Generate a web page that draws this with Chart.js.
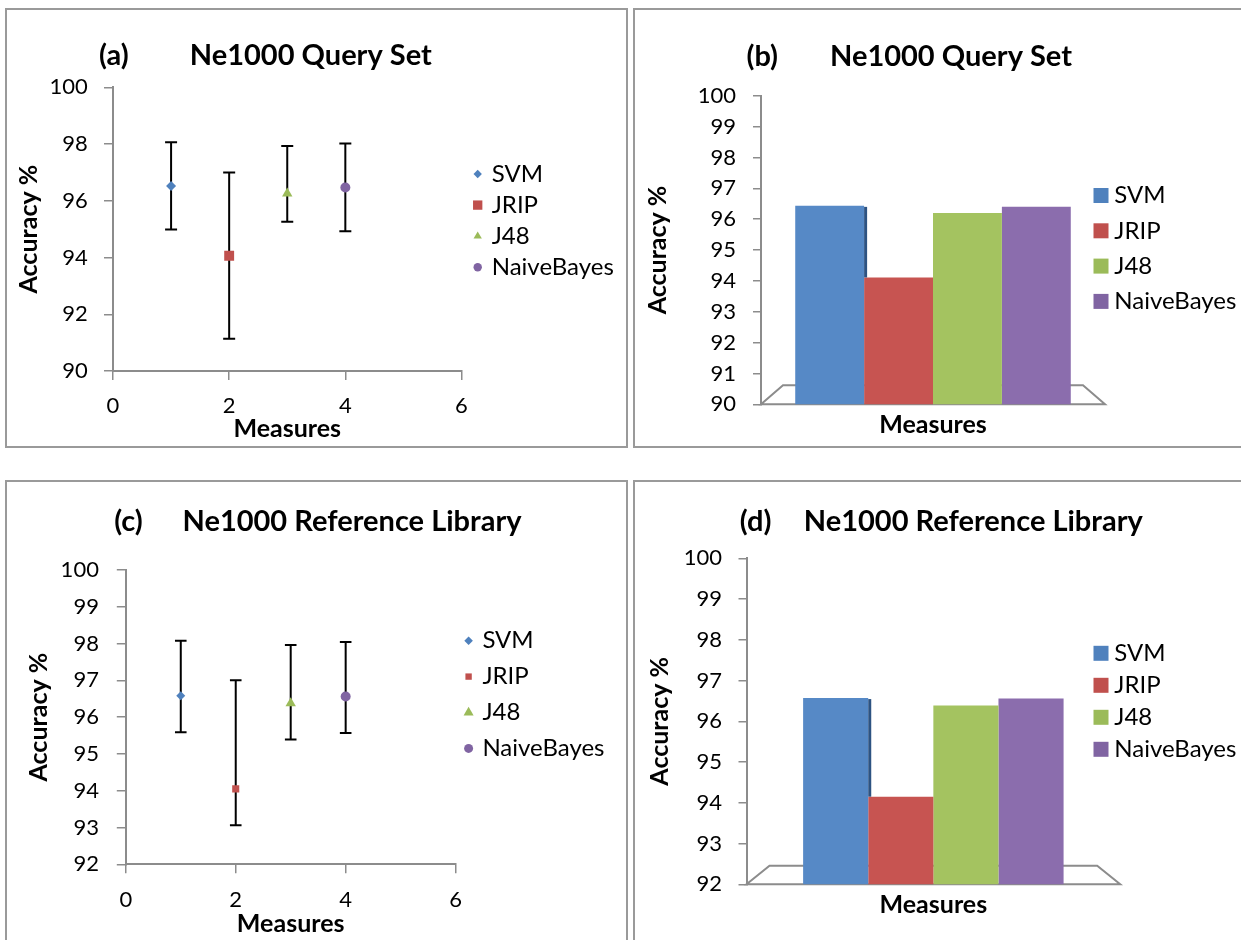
<!DOCTYPE html>
<html>
<head>
<meta charset="utf-8">
<script src="https://cdn.jsdelivr.net/npm/chart.js@4.4.1/dist/chart.umd.min.js"></script>
<style>
  html, body { margin: 0; padding: 0; background: #ffffff; }
  body { width: 1241px; height: 940px; overflow: hidden; position: relative; font-family: Lato, sans-serif; }
  .panel { position: absolute; border: 2px solid #9a9a9a; box-sizing: border-box; }
  canvas { position: absolute; }
</style>
</head>
<body>
<div class="panel" style="left:5px;top:8px;width:623px;height:440px"></div>
<div class="panel" style="left:633px;top:8px;width:700px;height:440px"></div>
<div class="panel" style="left:5px;top:480px;width:623px;height:520px"></div>
<div class="panel" style="left:633px;top:480px;width:700px;height:520px"></div>

<canvas id="chartA" width="621" height="438" style="left:6px;top:9px"></canvas>
<canvas id="chartB" width="620" height="438" style="left:634px;top:9px"></canvas>
<canvas id="chartC" width="621" height="459" style="left:6px;top:481px"></canvas>
<canvas id="chartD" width="620" height="459" style="left:634px;top:481px"></canvas>

<script>
// Classifiers compared in every panel
const methods = ['SVM', 'JRIP', 'J48', 'NaiveBayes'];
const measureIndex = [1, 2, 3, 4];

// Ne1000 Query Set: mean accuracy with lower / upper bounds
const queryMean = [96.52, 94.06, 96.26, 96.47];
const queryLow  = [94.99, 91.14, 95.26, 94.93];
const queryHigh = [98.06, 97.00, 97.93, 98.02];
const queryBar  = [96.43, 94.11, 96.20, 96.40];

// Ne1000 Reference Library: mean accuracy with lower / upper bounds
const refMean = [96.58, 94.05, 96.38, 96.56];
const refLow  = [95.59, 93.06, 95.39, 95.57];
const refHigh = [98.08, 97.00, 97.96, 98.04];
const refBar  = [96.57, 94.15, 96.39, 96.56];

// Axis ranges and tick steps
const measureTicks = { min: 0, max: 6, step: 2 };
const queryScatterTicks = { min: 90, max: 100, step: 2 };
const queryBarTicks = { min: 90, max: 100, step: 1 };
const refTicks = { min: 92, max: 100, step: 1 };

const markerColors = ['#4F81BD', '#C0504D', '#9BBB59', '#8064A2'];
const barColors    = ['#5689C6', '#C75451', '#A4C360', '#8B6DAD'];
const sideColors   = ['#2D5382', '#8E3431', '#6F8C37', '#5A4579'];
const markerStyles = ['rectRot', 'rect', 'triangle', 'circle'];

const FONT = 'Lato, "Open Sans", sans-serif';
const AXIS_GREY = '#8c8c8c';

// Vertical spread bars drawn behind the scatter markers
const errorBarPlugin = {
  id: 'errorBars',
  beforeDatasetsDraw(chart, args, o) {
    const { ctx, scales } = chart;
    ctx.save();
    ctx.strokeStyle = '#000';
    ctx.lineWidth = o.width;
    chart.data.datasets.forEach((ds, i) => {
      const px = scales.x.getPixelForValue(ds.data[0].x);
      const top = scales.y.getPixelForValue(o.high[i]);
      const bot = scales.y.getPixelForValue(o.low[i]);
      ctx.beginPath();
      ctx.moveTo(px, top); ctx.lineTo(px, bot);
      ctx.moveTo(px - o.cap, top); ctx.lineTo(px + o.cap, top);
      ctx.moveTo(px - o.cap, bot); ctx.lineTo(px + o.cap, bot);
      ctx.stroke();
    });
    ctx.restore();
  }
};

// Perspective floor under the column charts
const floorPlugin = {
  id: 'floor3d',
  beforeDatasetsDraw(chart, args, o) {
    const { ctx, chartArea: a } = chart;
    ctx.save();
    ctx.strokeStyle = AXIS_GREY;
    ctx.lineWidth = 2;
    ctx.beginPath();
    ctx.moveTo(a.left, a.bottom);
    ctx.lineTo(a.left + o.dx, a.bottom - o.dy);
    ctx.lineTo(a.right - o.dx, a.bottom - o.dy);
    ctx.lineTo(a.right, a.bottom);
    ctx.closePath();
    ctx.stroke();
    ctx.restore();
  }
};

// Visible right-hand face of a column that stands above its neighbour
const sideFacePlugin = {
  id: 'sideFace',
  afterDatasetsDraw(chart, args, o) {
    const ctx = chart.ctx;
    const n = chart.data.datasets.length;
    ctx.save();
    for (let i = 0; i < n - 1; i++) {
      const bar = chart.getDatasetMeta(i).data[0];
      const next = chart.getDatasetMeta(i + 1).data[0];
      if (bar.y < next.y) {
        ctx.fillStyle = sideColors[i];
        ctx.fillRect(bar.x + bar.width / 2, bar.y + 1, o.width, next.y - bar.y - 1);
      }
    }
    ctx.restore();
  }
};

// Legend column beside the plot
const sideLegendPlugin = {
  id: 'sideLegend',
  afterDraw(chart, args, o) {
    const ctx = chart.ctx;
    ctx.save();
    chart.data.datasets.forEach((ds, i) => {
      const y = o.top + i * o.step;
      ctx.fillStyle = markerColors[i];
      if (o.box) {
        ctx.fillRect(o.x - o.box / 2, y - o.box / 2, o.box, o.box);
      } else {
        Chart.helpers.drawPoint(ctx, { pointStyle: ds.pointStyle, radius: o.radius[i], rotation: 0, borderWidth: 0 }, o.x, y);
      }
      ctx.fillStyle = '#000';
      ctx.font = o.size + 'px ' + FONT;
      ctx.textAlign = 'left';
      ctx.textBaseline = 'middle';
      ctx.fillText(ds.label, o.textX, y);
    });
    ctx.restore();
  }
};

// Panel heading: letter tag and chart name
const headingPlugin = {
  id: 'panelHeading',
  afterDraw(chart, args, o) {
    const ctx = chart.ctx;
    ctx.save();
    ctx.fillStyle = '#000';
    ctx.font = 'bold ' + o.size + 'px ' + FONT;
    ctx.textAlign = 'center';
    ctx.textBaseline = 'middle';
    ctx.fillText(o.tag, o.tagX, o.y);
    ctx.fillText(o.text, o.textX, o.y);
    ctx.restore();
  }
};

const TICK_SIZE = 22;
const TITLE_SIZE = 25;
const HEAD_SIZE = 29;
const LEGEND_SIZE = 24;

function axisTitle(text, pad) {
  return { display: true, text, color: '#000', padding: pad,
           font: { family: FONT, size: TITLE_SIZE, weight: 'bold' } };
}

function tickFont() { return { family: FONT, size: TICK_SIZE }; }

function scatterChart(id, mean, low, high, yTicks, L) {
  return new Chart(document.getElementById(id), {
    type: 'scatter',
    data: {
      datasets: methods.map((m, i) => ({
        label: m,
        data: [{ x: measureIndex[i], y: mean[i] }],
        pointStyle: markerStyles[i],
        pointRadius: L.pointRadius[i],
        pointHoverRadius: L.pointRadius[i],
        backgroundColor: markerColors[i],
        borderColor: markerColors[i],
        borderWidth: 0
      }))
    },
    options: {
      responsive: false,
      animation: false,
      events: [],
      layout: { padding: L.padding },
      plugins: {
        legend: { display: false },
        tooltip: { enabled: false },
        errorBars: { low, high, cap: L.cap, width: 2 },
        sideLegend: L.legend,
        panelHeading: L.heading
      },
      scales: {
        x: {
          type: 'linear',
          min: measureTicks.min, max: measureTicks.max,
          afterFit(s) { s.height = L.xHeight; },
          ticks: { stepSize: measureTicks.step, autoSkip: false, maxRotation: 0, padding: L.xTickPad, color: '#000', font: tickFont() },
          grid: { drawOnChartArea: false, color: AXIS_GREY, lineWidth: 1.5, tickLength: 9 },
          border: { color: AXIS_GREY, width: 2 },
          title: axisTitle('Measures', { top: 0, bottom: L.xTitlePad })
        },
        y: {
          min: yTicks.min, max: yTicks.max,
          afterFit(s) { s.width = L.yWidth; },
          ticks: { stepSize: yTicks.step, autoSkip: false, padding: L.yTickPad, color: '#000', font: tickFont() },
          grid: { drawOnChartArea: false, color: AXIS_GREY, lineWidth: 1.5, tickLength: 9 },
          border: { color: AXIS_GREY, width: 2 },
          title: axisTitle('Accuracy %', { top: L.yTitlePad, bottom: 0 })
        }
      }
    },
    plugins: [errorBarPlugin, sideLegendPlugin, headingPlugin]
  });
}

function columnChart(id, values, yTicks, L) {
  return new Chart(document.getElementById(id), {
    type: 'bar',
    data: {
      labels: [''],
      datasets: methods.map((m, i) => ({
        label: m,
        data: [values[i]],
        backgroundColor: barColors[i],
        borderWidth: 0
      }))
    },
    options: {
      responsive: false,
      animation: false,
      events: [],
      categoryPercentage: L.catPct,
      barPercentage: 1,
      layout: { padding: L.padding },
      plugins: {
        legend: { display: false },
        tooltip: { enabled: false },
        floor3d: L.floor,
        sideFace: { width: 3 },
        sideLegend: L.legend,
        panelHeading: L.heading
      },
      scales: {
        x: {
          afterFit(s) { s.height = L.xHeight; },
          ticks: { display: false },
          grid: { display: false },
          border: { display: false },
          title: axisTitle('Measures', { top: 0, bottom: L.xTitlePad })
        },
        y: {
          min: yTicks.min, max: yTicks.max,
          afterFit(s) { s.width = L.yWidth; },
          ticks: { stepSize: yTicks.step, autoSkip: false, padding: L.yTickPad, color: '#000', font: tickFont() },
          grid: { drawOnChartArea: false, color: AXIS_GREY, lineWidth: 1.5, tickLength: 8 },
          border: { color: AXIS_GREY, width: 2 },
          title: axisTitle('Accuracy %', { top: L.yTitlePad, bottom: 0 })
        }
      }
    },
    plugins: [floorPlugin, sideFacePlugin, sideLegendPlugin, headingPlugin]
  });
}

function build() {
  scatterChart('chartA', queryMean, queryLow, queryHigh, queryScatterTicks, {
    padding: { left: 0, top: 78.3, right: 165.5, bottom: 0 },
    yWidth: 107, xHeight: 76,
    xTickPad: 12.8, yTickPad: 16.2, xTitlePad: 2.7, yTitlePad: 7.7,
    cap: 6,
    pointRadius: [5, 7, 6, 5],
    legend: { x: 471.7, textX: 485.7, top: 165, step: 31.1, size: LEGEND_SIZE, radius: [4.2, 6.6, 4.8, 4.2] },
    heading: { tag: '(a)', text: 'Ne1000 Query Set', tagX: 107.8, textX: 304.8, y: 46.8, size: HEAD_SIZE }
  });

  columnChart('chartB', queryBar, queryBarTicks, {
    padding: { left: 0, top: 86.7, right: 149, bottom: 0 },
    yWidth: 127, xHeight: 42.7,
    yTickPad: 17, xTitlePad: 7.0, yTitlePad: 8.6,
    catPct: 0.801,
    floor: { dx: 22, dy: 19 },
    legend: { x: 467, textX: 480.3, top: 186.5, step: 35.3, size: LEGEND_SIZE, box: 15 },
    heading: { tag: '(b)', text: 'Ne1000 Query Set', tagX: 128.3, textX: 317, y: 47.7, size: HEAD_SIZE }
  });

  scatterChart('chartC', refMean, refLow, refHigh, refTicks, {
    padding: { left: 0, top: 89, right: 171.4, bottom: 0 },
    yWidth: 119.8, xHeight: 75.7,
    xTickPad: 13.5, yTickPad: 17.9, xTitlePad: 1.0, yTitlePad: 17.5,
    cap: 5.8,
    pointRadius: [4.5, 5, 6, 5],
    legend: { x: 462.6, textX: 476.4, top: 159.7, step: 35.9, size: LEGEND_SIZE, radius: [4.3, 4.5, 5.8, 4.5] },
    heading: { tag: '(c)', text: 'Ne1000 Reference Library', tagX: 122.5, textX: 346, y: 40.7, size: HEAD_SIZE }
  });

  columnChart('chartD', refBar, refTicks, {
    padding: { left: 0, top: 77.3, right: 133.8, bottom: 0 },
    yWidth: 112.5, xHeight: 55.7,
    yTickPad: 16.5, xTitlePad: 20.0, yTitlePad: 11.0,
    catPct: 0.697,
    floor: { dx: 23, dy: 18.6 },
    legend: { x: 467, textX: 480.3, top: 172.3, step: 32, size: LEGEND_SIZE, box: 15 },
    heading: { tag: '(d)', text: 'Ne1000 Reference Library', tagX: 121.6, textX: 339.3, y: 40.7, size: HEAD_SIZE }
  });
}

Promise.all([
  document.fonts.load('22px Lato'),
  document.fonts.load('bold 22px Lato')
]).then(build, build);
</script>
</body>
</html>
